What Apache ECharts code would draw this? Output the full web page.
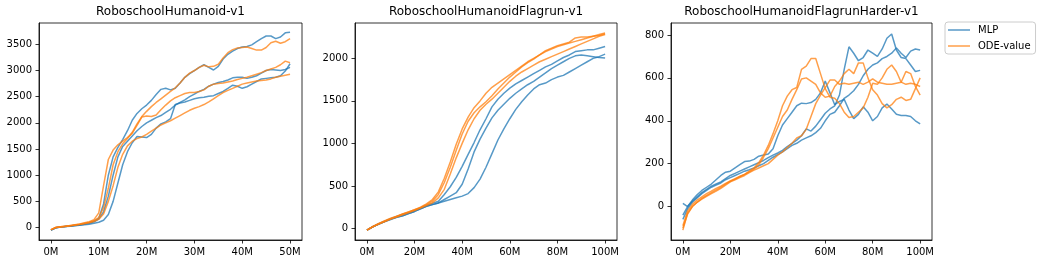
<!DOCTYPE html>
<html>
<head>
<meta charset="utf-8">
<script src="https://cdn.jsdelivr.net/npm/echarts@6/dist/echarts.min.js"></script>
<style>
html,body{margin:0;padding:0;background:#fff;}
#chart{width:1041px;height:264px;}
</style>
</head>
<body>
<div id="chart"></div>
<script>
// ---------- Data ----------
const titles = ['RoboschoolHumanoid-v1', 'RoboschoolHumanoidFlagrun-v1', 'RoboschoolHumanoidFlagrunHarder-v1'];
const seriesNames = ['MLP', 'ODE-value'];

// Panel 1: RoboschoolHumanoid-v1 (x in millions of steps)
const steps1 = [0,1,2,3,4,5,6,7,8,9,10,11,12,13,14,15,16,17,18,19,20,21,22,23,24,25,26,27,28,29,30,31,32,33,34,35,36,37,38,39,40,41,42,43,44,45,46,47,48,49,50];
const mlp1a = [-50,-5,10,20,30,45,55,70,90,120,180,450,1000,1350,1530,1680,1850,2050,2180,2270,2340,2430,2540,2640,2660,2630,2660,2760,2870,2940,3000,3060,3110,3060,3010,3080,3220,3310,3370,3420,3450,3460,3490,3550,3610,3660,3660,3610,3640,3720,3730];
const mlp1b = [-50,-5,8,18,25,35,45,55,65,80,100,140,250,500,850,1200,1450,1620,1740,1730,1720,1780,1900,1980,2020,2080,2350,2380,2400,2430,2460,2480,2490,2510,2520,2560,2600,2660,2720,2700,2660,2690,2740,2790,2840,2850,2860,2870,2900,2990,3130];
const mlp1c = [-50,-5,10,20,30,40,50,65,80,110,160,300,600,1000,1350,1550,1650,1750,1850,1930,2000,2050,2100,2140,2200,2260,2340,2390,2440,2500,2550,2600,2640,2700,2740,2770,2790,2820,2860,2870,2870,2850,2870,2900,2950,3000,3020,3010,3000,3020,3060];
const ode1a = [-40,0,15,25,35,50,65,80,100,130,190,380,750,1200,1450,1600,1700,1820,1980,2120,2220,2310,2390,2460,2530,2600,2670,2760,2870,2950,3000,3060,3100,3070,3080,3120,3240,3340,3400,3430,3440,3450,3420,3390,3390,3440,3530,3560,3520,3550,3610];
const ode1b = [-45,0,15,25,40,55,70,90,110,150,280,800,1300,1480,1580,1650,1720,1800,1950,2110,2130,2120,2150,2250,2340,2420,2480,2520,2560,2580,2580,2600,2630,2700,2740,2750,2760,2780,2800,2830,2850,2870,2900,2930,2960,3000,3030,3060,3110,3180,3150];
const ode1c = [-40,0,12,22,32,45,58,72,90,115,160,260,500,800,1150,1400,1560,1650,1700,1730,1780,1840,1900,1960,2000,2040,2090,2140,2190,2240,2280,2310,2350,2400,2460,2520,2580,2620,2660,2700,2740,2760,2780,2800,2810,2820,2840,2870,2890,2910,2930];

// Panel 2: RoboschoolHumanoidFlagrun-v1
const steps2 = [0,2.5,5,7.5,10,12.5,15,17.5,20,22.5,25,27.5,30,32.5,35,37.5,40,42.5,45,47.5,50,52.5,55,57.5,60,62.5,65,67.5,70,72.5,75,77.5,80,82.5,85,87.5,90,92.5,95,97.5,100];
const mlp2a = [-20,20,55,85,115,140,165,185,210,240,270,295,320,400,490,600,730,870,1010,1160,1290,1430,1520,1590,1650,1700,1740,1780,1820,1860,1900,1930,1970,2010,2040,2080,2090,2100,2100,2120,2140];
const mlp2b = [-20,20,50,80,110,130,150,175,200,230,260,280,300,340,380,420,520,700,900,1050,1180,1300,1390,1460,1530,1590,1640,1690,1730,1780,1830,1880,1920,1960,2000,2030,2040,2030,2020,2010,2005];
const mlp2c = [-20,20,50,80,105,130,150,175,200,230,260,280,300,320,340,360,380,410,480,580,720,880,1040,1170,1290,1400,1490,1570,1640,1690,1710,1750,1780,1800,1840,1880,1920,1960,2000,2020,2050];
const ode2a = [-20,25,60,90,120,145,170,195,220,250,290,340,430,590,780,990,1170,1310,1420,1500,1590,1660,1710,1760,1810,1860,1910,1960,2000,2040,2080,2110,2140,2160,2180,2200,2220,2240,2260,2280,2300];
const ode2b = [-20,20,55,85,115,140,170,195,220,245,280,320,400,540,720,920,1110,1260,1360,1430,1490,1560,1640,1710,1780,1840,1900,1950,1990,2040,2090,2120,2150,2170,2190,2240,2250,2250,2260,2270,2290];
const ode2c = [-20,20,50,80,110,135,160,185,210,240,270,300,360,460,640,830,1000,1160,1290,1390,1460,1520,1590,1660,1730,1790,1840,1880,1920,1960,1990,2020,2050,2080,2110,2140,2170,2200,2230,2260,2280];

// Panel 3: RoboschoolHumanoidFlagrunHarder-v1
const steps3 = [0,2,4,6,8,10,12,14,16,18,20,22,24,26,28,30,32,34,36,38,40,42,44,46,48,50,52,54,56,58,60,62,64,66,68,70,72,74,76,78,80,82,84,86,88,90,92,94,96,98,100];
const mlp3a = [-40,0,30,55,75,90,105,125,145,160,165,180,195,210,212,220,235,240,245,270,330,380,410,440,470,482,480,485,500,530,585,530,475,490,500,450,410,430,465,440,400,420,460,478,455,430,425,425,420,400,385];
const mlp3b = [15,0,25,45,65,80,95,105,115,130,145,155,165,175,185,195,205,215,228,240,250,262,280,295,310,330,362,352,375,405,435,455,470,520,640,745,715,680,695,730,715,700,735,785,805,730,695,690,660,630,635];
const mlp3c = [-60,-10,20,40,60,75,90,100,110,125,135,145,155,165,172,180,190,200,215,230,242,255,270,285,295,310,320,330,345,365,400,430,440,470,505,520,540,570,610,640,660,670,690,700,715,740,715,695,725,735,730];
const ode3a = [-90,-20,10,30,45,60,72,85,95,108,120,130,140,150,165,180,205,240,285,340,400,470,515,545,555,640,655,690,690,620,550,510,505,480,440,415,420,440,460,510,575,570,600,640,660,630,580,570,575,570,560];
const ode3b = [-110,-30,0,20,38,52,65,78,90,105,118,128,140,150,162,175,195,230,270,320,370,420,450,500,545,595,600,585,570,530,510,515,560,585,620,640,620,670,670,600,545,520,480,460,475,500,510,495,500,550,600];
const ode3c = [-100,-35,0,20,35,48,60,72,85,100,115,125,135,145,158,170,180,190,200,220,240,255,275,295,320,330,360,420,480,520,555,590,590,570,575,570,575,580,570,580,595,580,575,570,570,575,580,630,620,560,520];

// Tick values
const xTicks1 = [0,10,20,30,40,50];
const xTicks2 = [0,20,40,60,80,100];
const xTicks3 = [0,20,40,60,80,100];
const yTicks1 = [0,500,1000,1500,2000,2500,3000,3500];
const yTicks2 = [0,500,1000,1500,2000];
const yTicks3 = [0,200,400,600,800];

// ---------- Build chart ----------
const FONT = 'DejaVu Sans';
const BLUE = 'rgba(31,119,180,0.75)';
const ORANGE = 'rgba(255,127,14,0.75)';

const grids = [
  {left: 39, top: 23, width: 263, height: 217},
  {left: 355, top: 23, width: 262, height: 217},
  {left: 671, top: 23, width: 261, height: 217}
].map(g => Object.assign(g, {show: true, borderColor: '#000', borderWidth: 0.8, backgroundColor: 'transparent'}));

const ranges = [
  {x: [-2.5, 52.5], y: [-238, 3908], xt: xTicks1, yt: yTicks1},
  {x: [-5, 105], y: [-136, 2416], xt: xTicks2, yt: yTicks2},
  {x: [-5, 105], y: [-156, 856], xt: xTicks3, yt: yTicks3}
];

function axis(gi, r, isX) {
  const ticks = isX ? r.xt : r.yt;
  return {
    type: 'value', gridIndex: gi,
    min: isX ? r.x[0] : r.y[0], max: isX ? r.x[1] : r.y[1],
    axisLine: {show: true, onZero: false, lineStyle: {color: '#000', width: 0.8}},
    axisTick: {show: true, length: 3.5, inside: false, customValues: ticks, lineStyle: {color: '#000', width: 0.8}},
    axisLabel: {show: true, customValues: ticks, margin: 7, color: '#000', fontSize: 10, fontFamily: FONT,
      formatter: isX ? (v => v + 'M') : (v => String(v)), hideOverlap: false},
    splitLine: {show: false}
  };
}

const xAxes = ranges.map((r, i) => axis(i, r, true));
const yAxes = ranges.map((r, i) => axis(i, r, false));

const panels = [
  {steps: steps1, mlp: [mlp1a, mlp1b, mlp1c], ode: [ode1a, ode1b, ode1c]},
  {steps: steps2, mlp: [mlp2a, mlp2b, mlp2c], ode: [ode2a, ode2b, ode2c]},
  {steps: steps3, mlp: [mlp3a, mlp3b, mlp3c], ode: [ode3a, ode3b, ode3c]}
];

const series = [];
panels.forEach((p, gi) => {
  const mk = (ys, name, color) => ({
    type: 'line', name: name, xAxisIndex: gi, yAxisIndex: gi,
    data: p.steps.map((x, i) => [x, ys[i]]),
    showSymbol: false, symbol: 'none', smooth: false,
    color: color,
    lineStyle: {color: color, width: 1.5},
    emphasis: {disabled: true}, silent: true
  });
  p.mlp.forEach(ys => series.push(mk(ys, seriesNames[0], BLUE)));
  p.ode.forEach(ys => series.push(mk(ys, seriesNames[1], ORANGE)));
});

const titleCenters = grids.map(g => g.left + g.width / 2);
const titleOpts = titles.map((t, i) => ({
  text: t, left: titleCenters[i], top: 6, textAlign: 'center', padding: 0,
  textStyle: {fontSize: 12, fontWeight: 'normal', color: '#000', fontFamily: FONT}
}));

const chart = echarts.init(document.getElementById('chart'), null, {renderer: 'canvas'});
chart.setOption({
  animation: false,
  backgroundColor: '#fff',
  title: titleOpts,
  grid: grids,
  xAxis: xAxes,
  yAxis: yAxes,
  legend: {
    data: seriesNames, orient: 'vertical', left: 945, top: 22,
    icon: 'rect', itemWidth: 22, itemHeight: 1.5, itemGap: 4,
    padding: [2, 5, 2, 3], borderColor: '#cccccc', borderWidth: 1, borderRadius: 3,
    selectedMode: false,
    textStyle: {fontSize: 10, fontFamily: FONT, color: '#000', lineHeight: 12, padding: [0, 0, 0, 3]}
  },
  series: series
});
</script>
</body>
</html>
